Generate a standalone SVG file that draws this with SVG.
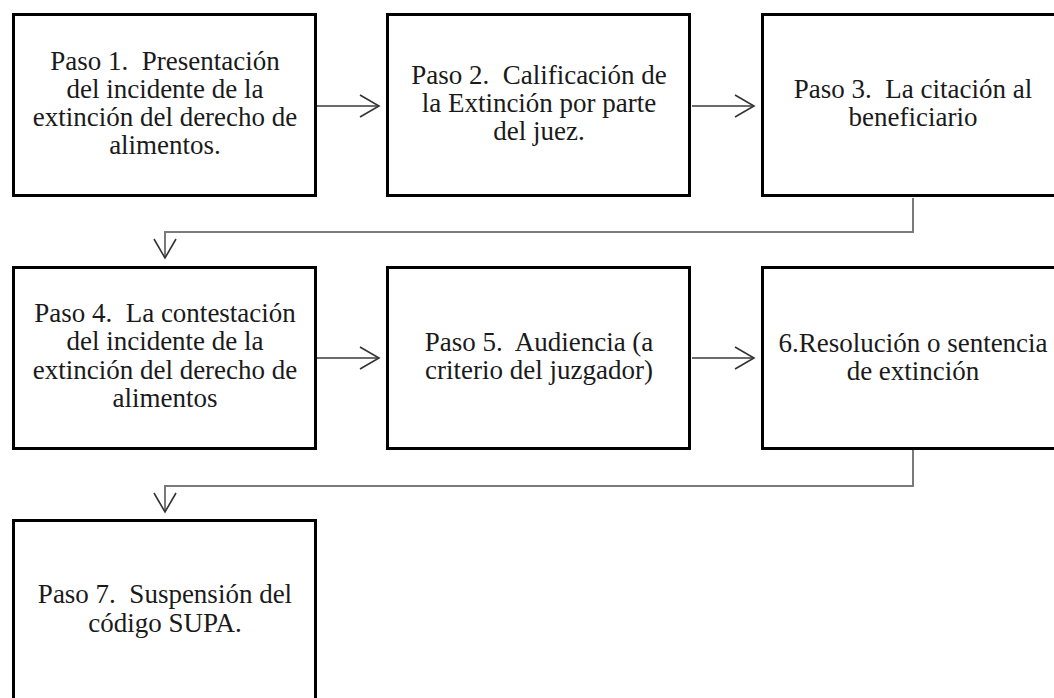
<svg xmlns="http://www.w3.org/2000/svg" width="1054" height="698" viewBox="0 0 1054 698">
  <style>
    .box { fill: #ffffff; stroke: #000000; stroke-width: 3; }
    .lbl { font-family: 'Liberation Serif', Tinos, 'Times New Roman', Times, 'DejaVu Serif', serif; font-size: 27px; fill: #1a1a1a; text-anchor: middle; white-space: pre; }
    .arr { fill: none; stroke: #3a3a3a; stroke-width: 1.5; }
    .elb { fill: none; stroke: #7a7a7a; stroke-width: 2; }
  </style>
  <defs>
    <marker id="open" markerUnits="userSpaceOnUse" markerWidth="26" markerHeight="26" refX="20" refY="12" orient="auto">
      <path d="M1,1 L20,12 L1,23" fill="none" stroke="#333333" stroke-width="1.6"/>
    </marker>
  </defs>
  <rect width="1054" height="698" fill="#ffffff"/>

  <g id="connectors">
    <line class="arr" x1="317" y1="106" x2="379" y2="106" marker-end="url(#open)"/>
    <line class="arr" x1="692" y1="106" x2="754" y2="106" marker-end="url(#open)"/>
    <polyline class="elb" points="913,198 913,232 165,232 165,258" marker-end="url(#open)"/>
    <line class="arr" x1="317" y1="358" x2="379" y2="358" marker-end="url(#open)"/>
    <line class="arr" x1="692" y1="358" x2="754" y2="358" marker-end="url(#open)"/>
    <polyline class="elb" points="913,450 913,486 165,486 165,512" marker-end="url(#open)"/>
  </g>

  <g font-family="Liberation Serif, serif">
  <g id="paso1">
    <rect class="box" x="13.5" y="14.5" width="302" height="181"/>
    <text class="lbl" x="165"><tspan x="165" y="70">Paso 1.  Presentación</tspan><tspan x="165" y="98">del incidente de la</tspan><tspan x="165" y="126">extinción del derecho de</tspan><tspan x="165" y="154">alimentos.</tspan></text>
  </g>
  <g id="paso2">
    <rect class="box" x="387.5" y="14.5" width="302" height="181"/>
    <text class="lbl" x="539"><tspan x="539" y="84">Paso 2.  Calificación de</tspan><tspan x="539" y="112">la Extinción por parte</tspan><tspan x="539" y="140">del juez.</tspan></text>
  </g>
  <g id="paso3">
    <rect class="box" x="762.5" y="14.5" width="302" height="181"/>
    <text class="lbl" x="913"><tspan x="913" y="98">Paso 3.  La citación al</tspan><tspan x="913" y="126">beneficiario</tspan></text>
  </g>
  <g id="paso4">
    <rect class="box" x="13.5" y="267.5" width="302" height="181"/>
    <text class="lbl" x="165"><tspan x="165" y="322">Paso 4.  La contestación</tspan><tspan x="165" y="350">del incidente de la</tspan><tspan x="165" y="379">extinción del derecho de</tspan><tspan x="165" y="407">alimentos</tspan></text>
  </g>
  <g id="paso5">
    <rect class="box" x="387.5" y="267.5" width="302" height="181"/>
    <text class="lbl" x="539"><tspan x="539" y="351">Paso 5.  Audiencia (a</tspan><tspan x="539" y="379">criterio del juzgador)</tspan></text>
  </g>
  <g id="paso6">
    <rect class="box" x="762.5" y="267.5" width="302" height="181"/>
    <text class="lbl" x="913"><tspan x="913" y="352">6.Resolución o sentencia</tspan><tspan x="913" y="380">de extinción</tspan></text>
  </g>
  <g id="paso7">
    <rect class="box" x="13.5" y="520.5" width="302" height="182"/>
    <text class="lbl" x="165"><tspan x="165" y="603">Paso 7.  Suspensión del</tspan><tspan x="165" y="632">código SUPA.</tspan></text>
  </g>
  </g>
</svg>
